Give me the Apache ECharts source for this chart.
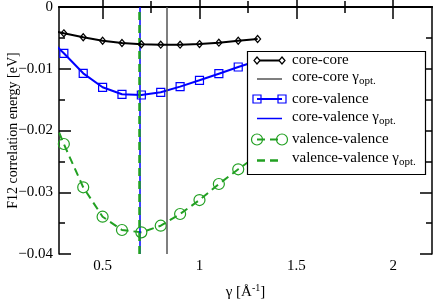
<!DOCTYPE html>
<html>
<head>
<meta charset="utf-8">
<script src="https://cdn.jsdelivr.net/npm/echarts@6/dist/echarts.min.js"></script>
<style>html,body{margin:0;padding:0;background:#fff}#c{width:436px;height:299px}</style>
</head>
<body>
<div id="c"></div>
<script>
// ---- data ----
const gamma = [0.2, 0.3, 0.4, 0.5, 0.6, 0.7, 0.8, 0.9, 1.0, 1.1, 1.2, 1.3];
const coreCore = [-0.0036, -0.00426, -0.0049, -0.00546, -0.00583, -0.00604, -0.0061, -0.0061, -0.0060, -0.00578, -0.00546, -0.00518];
const coreValence = [-0.0045, -0.0075, -0.01074, -0.0130, -0.01414, -0.01425, -0.01381, -0.0129, -0.01187, -0.0108, -0.00972, -0.0087];
const valenceValence = [-0.0145, -0.02219, -0.0292, -0.03396, -0.03611, -0.03649, -0.03542, -0.03352, -0.03126, -0.02866, -0.02628, -0.0240];
const gammaOptCoreCore = 0.83;
const gammaOptCoreValence = 0.694;
const gammaOptValenceValence = 0.688;
const xMajorTicks = [0.5, 1, 1.5, 2];
const xMinorTicks = [0.75, 1.25, 1.75];
const legendLabels = ['core-core', 'core-core γ', 'core-valence', 'core-valence γ', 'valence-valence', 'valence-valence γ'];

const FONT = '"Liberation Serif", "DejaVu Serif", serif';
const GREEN = '#22a022';
const BLUE = '#0000ff';
const pair = (xs, ys) => xs.map((x, i) => [x, ys[i]]);

const X_MIN = 0.275, X_MAX = 2.2;
const axisLine = { show: true, lineStyle: { color: '#000', width: 1.5 } };
function xAxisDef(pos, ticks, len, labels) {
  return {
    type: 'value', position: pos, min: X_MIN, max: X_MAX,
    axisLine: axisLine,
    axisTick: { show: true, inside: true, length: len, customValues: ticks, lineStyle: { color: '#000', width: 1.5 } },
    axisLabel: labels ? { show: true, customValues: ticks, color: '#000', fontSize: 15, fontFamily: FONT, margin: 5 } : { show: false },
    splitLine: { show: false }
  };
}
const xAxes = [
  xAxisDef('bottom', xMajorTicks, 12, true),
  xAxisDef('bottom', xMinorTicks, 6, false),
  xAxisDef('top', xMajorTicks, 12, false),
  xAxisDef('top', xMinorTicks, 6, false)
];
xAxes[0].name = 'γ [Å{sup|-1}]';
xAxes[0].nameLocation = 'middle';
xAxes[0].nameGap = 29;
xAxes[0].nameMoveOverlap = false;
xAxes[0].nameTextStyle = { color: '#000', fontSize: 15, fontFamily: FONT,
  rich: { sup: { fontSize: 10, fontFamily: FONT, color: '#000', padding: [0, 0, 9, 0] } } };

function yAxisDef(pos, labels) {
  return {
    type: 'value', position: pos, min: -0.04, max: 0, interval: 0.01,
    axisLine: axisLine,
    axisTick: { show: true, inside: true, length: 12, lineStyle: { color: '#000', width: 1.5 } },
    minorTick: { show: true, splitNumber: 2, length: 6, lineStyle: { color: '#000', width: 1.5 } },
    axisLabel: labels ? { show: true, color: '#000', fontSize: 15, fontFamily: FONT, margin: 6,
      formatter: v => String(+v.toFixed(4)).replace('-', '\u2212') } : { show: false },
    splitLine: { show: false }, minorSplitLine: { show: false }
  };
}
const yAxes = [yAxisDef('left', true), yAxisDef('right', false)];
yAxes[0].name = 'F12 correlation energy [eV]';
yAxes[0].nameLocation = 'middle';
yAxes[0].nameGap = 39;
yAxes[0].nameMoveOverlap = false;
yAxes[0].nameTextStyle = { color: '#000', fontSize: 14, fontFamily: FONT };

function vline(x, color, width, type) {
  return { symbol: 'none', silent: true, label: { show: false }, animation: false,
    lineStyle: { color: color, width: width, type: type }, data: [{ xAxis: x }] };
}

const series = [
  { name: legendLabels[0], type: 'line', data: pair(gamma, coreCore), clip: true, z: 5,
    symbol: 'diamond', symbolSize: [6, 7],
    lineStyle: { color: '#000', width: 2 },
    itemStyle: { color: 'rgba(255,255,255,0)', borderColor: '#000', borderWidth: 1.2 },
    markLine: vline(gammaOptCoreCore, '#555', 1.5, 'solid') },
  { name: legendLabels[2], type: 'line', data: pair(gamma, coreValence), clip: true, z: 4,
    symbol: 'rect', symbolSize: 8,
    lineStyle: { color: BLUE, width: 2 },
    itemStyle: { color: 'rgba(255,255,255,0)', borderColor: BLUE, borderWidth: 1.2 },
    markLine: vline(gammaOptCoreValence, BLUE, 1.5, 'solid') },
  { name: legendLabels[4], type: 'line', data: pair(gamma, valenceValence), clip: true, z: 3,
    symbol: 'circle', symbolSize: 11,
    lineStyle: { color: GREEN, width: 2, type: [8, 5] },
    itemStyle: { color: 'rgba(255,255,255,0)', borderColor: GREEN, borderWidth: 1.2 },
    markLine: vline(gammaOptValenceValence, GREEN, 2.5, [8, 5]) }
];

// ---- legend (drawn as graphics) ----
const LX1 = 257, LX2 = 282, TX = 292;
const rows = [60.5, 77, 99, 117, 139.5, 158];
const lineYs = [60.5, 79, 99, 118.5, 139.5, 160.5];
const richSub = { sub: { fontSize: 11, fontFamily: FONT, fill: '#000', padding: [9, 0, 0, 0] } };
const g = [];
g.push({ type: 'rect', z: 100, shape: { x: 247.5, y: 51.5, width: 178, height: 123 },
  style: { fill: '#fff', stroke: '#000', lineWidth: 1.2 } });
function lline(y, color, w, dash) {
  g.push({ type: 'line', z: 101, shape: { x1: LX1, y1: y, x2: LX2, y2: y },
    style: { stroke: color, lineWidth: w, lineDash: dash || null } });
}
function ltext(y, txt, sub) {
  g.push({ type: 'text', z: 101, style: { x: TX, y: y, text: sub ? txt + '{sub|opt.}' : txt,
    fill: '#000', fontSize: 15, fontFamily: FONT, verticalAlign: 'middle', rich: richSub } });
}
lline(lineYs[0], '#000', 2);
[LX1, LX2].forEach(x => g.push({ type: 'polygon', z: 102,
  shape: { points: [[x, lineYs[0] - 3.5], [x + 3, lineYs[0]], [x, lineYs[0] + 3.5], [x - 3, lineYs[0]]] },
  style: { fill: '#fff', stroke: '#000', lineWidth: 1.2 } }));
ltext(rows[0], legendLabels[0], false);
lline(lineYs[1], '#555', 1.5);
ltext(rows[1], legendLabels[1], true);
lline(lineYs[2], BLUE, 2);
[LX1, LX2].forEach(x => g.push({ type: 'rect', z: 102,
  shape: { x: x - 4, y: lineYs[2] - 4, width: 8, height: 8 },
  style: { fill: 'rgba(0,0,0,0)', stroke: BLUE, lineWidth: 1.2 } }));
ltext(rows[2], legendLabels[2], false);
lline(lineYs[3], BLUE, 1.5);
ltext(rows[3], legendLabels[3], true);
lline(lineYs[4], GREEN, 2, [8, 5]);
[LX1, LX2].forEach(x => g.push({ type: 'circle', z: 102,
  shape: { cx: x, cy: lineYs[4], r: 5.5 },
  style: { fill: 'rgba(0,0,0,0)', stroke: GREEN, lineWidth: 1.2 } }));
ltext(rows[4], legendLabels[4], false);
lline(lineYs[5], GREEN, 2.5, [8, 5]);
ltext(rows[5], legendLabels[5], true);

const chart = echarts.init(document.getElementById('c'), null, { renderer: 'canvas' });
chart.setOption({
  animation: false,
  backgroundColor: '#fff',
  grid: { left: 59, right: 4, top: 7, bottom: 45, containLabel: false, outerBoundsMode: 'none' },
  xAxis: xAxes,
  yAxis: yAxes,
  series: series,
  graphic: g
});
</script>
</body>
</html>
